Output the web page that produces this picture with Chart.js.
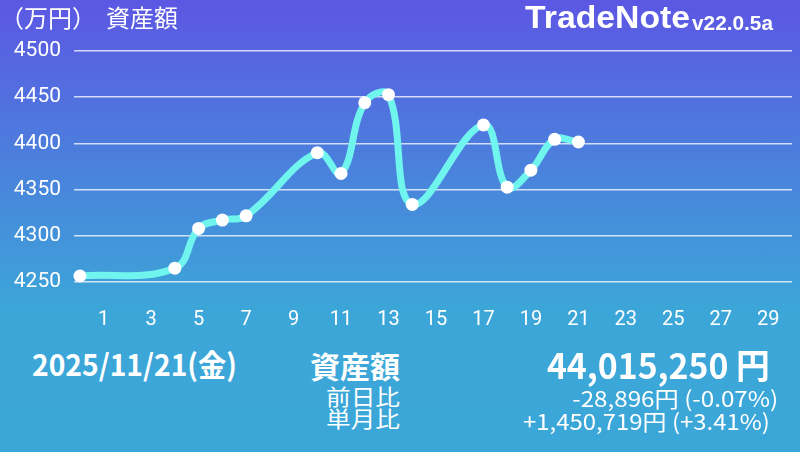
<!DOCTYPE html>
<html lang="ja">
<head>
<meta charset="utf-8">
<script src="https://cdn.jsdelivr.net/npm/chart.js@4.4.1/dist/chart.umd.min.js"></script>
<style>
  html, body { margin:0; padding:0; }
  body {
    width:800px; height:452px; overflow:hidden; position:relative;
    background: linear-gradient(to bottom, #5c57e3 0px, #4a82dc 170px, #3ca6d8 310px, #3ba7d8 452px);
    font-family: "Noto Sans CJK JP", "Noto Sans", sans-serif; color:#fff;
  }
  #c { position:absolute; left:0; top:0; }
  .t { position:absolute; white-space:nowrap; line-height:1; }
  .fit { display:inline-block; }
</style>
</head>
<body>
<canvas id="c" width="800" height="340"></canvas>

<div class="t" style="left:0px; top:5px; font-size:24px;">（万円）</div>
<div class="t" style="left:106px; top:5px; font-size:24px;">資産額</div>
<div class="t fit" data-w="165" data-align="left" style="left:525px; top:2px; font-family:'Liberation Sans',Arial,sans-serif; font-weight:bold; font-size:31px;">TradeNote</div>
<div class="t fit" data-w="81" data-align="left" style="left:692px; top:12px; font-family:'Liberation Sans',Arial,sans-serif; font-weight:bold; font-size:21px;">v22.0.5a</div>

<div class="t fit" data-w="205" data-align="left" style="left:32px; top:348px; font-size:30px; font-weight:bold;">2025/11/21(金)</div>
<div class="t fit" data-w="90" data-align="left" style="left:310px; top:350px; font-size:30px; font-weight:bold;">資産額</div>
<div class="t fit" data-w="74" data-align="left" style="left:326px; top:384px; font-size:22px;">前日比</div>
<div class="t fit" data-w="74" data-align="left" style="left:326px; top:406px; font-size:22px;">単月比</div>
<div class="t fit" data-w="223" data-align="right" style="right:30px; top:346px; font-size:35px; font-weight:bold;">44,015,250 円</div>
<div class="t fit" data-w="206" data-align="right" style="right:22px; top:386px; font-size:22px;">-28,896円 (-0.07%)</div>
<div class="t fit" data-w="247" data-align="right" style="right:30px; top:409px; font-size:22px;">+1,450,719円 (+3.41%)</div>

<script>
// ---- data ----
const days = [0, 4, 5, 6, 7, 10, 11, 12, 13, 14, 17, 18, 19, 20, 21];
const assets = [4256.5, 4265, 4308, 4317, 4321.6, 4390, 4367.4, 4444, 4452.7, 4334, 4420, 4352.6, 4371, 4404.4, 4401.5];
const xTickLabels = [1, 3, 5, 7, 9, 11, 13, 15, 17, 19, 21, 23, 25, 27, 29];
const yTickLabels = [4250, 4300, 4350, 4400, 4450, 4500];

const points = days.map((d, i) => ({ x: d, y: assets[i] }));

new Chart(document.getElementById('c'), {
  type: 'line',
  data: {
    datasets: [{
      data: points,
      borderColor: '#70f4ee',
      borderWidth: 7,
      tension: 0.4,
      pointRadius: 6.5,
      pointBackgroundColor: '#ffffff',
      pointBorderWidth: 0,
      pointHoverRadius: 6.5,
      clip: false,
      spanGaps: true
    }]
  },
  options: {
    responsive: false,
    animation: false,
    events: [],
    layout: { padding: { top: 51, right: 8, left: 0, bottom: 0 } },
    plugins: { legend: { display: false }, tooltip: { enabled: false } },
    scales: {
      x: {
        type: 'linear',
        min: -0.25,
        max: 30,
        afterBuildTicks: s => { s.ticks = xTickLabels.map(v => ({ value: v })); },
        afterFit: s => { s.height = 58; },
        grid: { display: true, drawOnChartArea: false, drawTicks: true, tickLength: 26, tickColor: 'rgba(0,0,0,0)', color: 'rgba(0,0,0,0)' },
        border: { display: false },
        ticks: {
          color: '#ffffff',
          font: { family: 'Roboto', size: 20 },
          padding: 0,
          maxRotation: 0,
          autoSkip: false,
          callback: v => String(v)
        }
      },
      y: {
        min: yTickLabels[0],
        max: yTickLabels[yTickLabels.length - 1],
        afterBuildTicks: s => { s.ticks = yTickLabels.map(v => ({ value: v })); },
        afterFit: s => { s.width = 74; },
        grid: { color: 'rgba(255,255,255,0.75)', lineWidth: 1.5, drawTicks: true, tickLength: 13, tickColor: 'rgba(0,0,0,0)' },
        border: { display: false },
        ticks: {
          color: '#ffffff',
          font: { family: 'Roboto', size: 21 },
          padding: 0,
          callback: v => String(v)
        }
      }
    }
  }
});

function fitAll() {
  document.querySelectorAll('.fit').forEach(el => {
    el.style.transform = 'none';
    const target = parseFloat(el.dataset.w);
    const w = el.getBoundingClientRect().width;
    if (w > 0) {
      el.style.transformOrigin = el.dataset.align === 'right' ? 'right center' : 'left center';
      el.style.transform = 'scaleX(' + (target / w) + ')';
    }
  });
}
fitAll();
if (document.fonts && document.fonts.ready) { document.fonts.ready.then(fitAll); }
</script>
</body>
</html>
